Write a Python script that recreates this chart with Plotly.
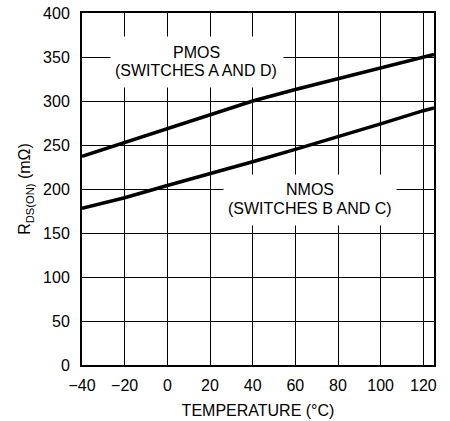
import plotly.graph_objects as go

# Data
temperature = [-40, -20, 0, 20, 40, 60, 80, 100, 120, 125]
pmos_rds = [237, 253, 268, 284, 300, 313, 325, 338, 350, 353]
nmos_rds = [178, 190, 204, 217, 231, 245, 259, 274, 289, 292]

x_ticks = [-40, -20, 0, 20, 40, 60, 80, 100, 120]
x_tick_text = ["\u221240", "\u221220", "0", "20", "40", "60", "80", "100", "120"]
y_ticks = [0, 50, 100, 150, 200, 250, 300, 350, 400]

# Label texts and placements (data coordinates)
pmos_label = ["PMOS", "(SWITCHES A AND D)"]
pmos_label_x = 13.5
pmos_label_y = [355, 335]
pmos_box_center = (13.8, 344)

nmos_label = ["NMOS", "(SWITCHES B AND C)"]
nmos_label_x = 67
nmos_label_y = [199, 178]
nmos_box_center = (67, 187)

FONT = "Liberation Sans, Arial, sans-serif"
FS = 16

fig = go.Figure()
fig.add_trace(go.Scatter(x=temperature, y=pmos_rds, mode="lines",
                         line=dict(color="black", width=3.5), showlegend=False))
fig.add_trace(go.Scatter(x=temperature, y=nmos_rds, mode="lines",
                         line=dict(color="black", width=3.5), showlegend=False))

# white knock-out boxes behind the labels
for cx, cy in (pmos_box_center, nmos_box_center):
    fig.add_annotation(x=cx, y=cy, text=" ", showarrow=False,
                       width=172, height=50, bgcolor="white", borderpad=0,
                       font=dict(size=2))

for txt, yy in zip(pmos_label, pmos_label_y):
    fig.add_annotation(x=pmos_label_x, y=yy, text=txt, showarrow=False,
                       font=dict(family=FONT, size=FS, color="black"))
for txt, yy in zip(nmos_label, nmos_label_y):
    fig.add_annotation(x=nmos_label_x, y=yy, text=txt, showarrow=False,
                       font=dict(family=FONT, size=FS, color="black"))

fig.update_layout(
    template="none",
    width=450, height=421,
    margin=dict(l=82, r=16, t=13, b=56, autoexpand=False),
    paper_bgcolor="white", plot_bgcolor="white",
    font=dict(family=FONT, size=FS, color="black"),
    showlegend=False,
)
fig.update_xaxes(
    range=[-40, 125], tickvals=x_ticks, ticktext=x_tick_text,
    showgrid=True, gridcolor="#000000", gridwidth=1, zeroline=False,
    showline=True, linecolor="black", linewidth=2, mirror=True,
    ticks="outside", ticklen=5, tickcolor="rgba(0,0,0,0)", automargin=False,
    ticklabeloverflow="allow",
    title=dict(text="TEMPERATURE (\u00b0C)", standoff=12,
               font=dict(family=FONT, size=FS)),
)
fig.update_yaxes(
    range=[0, 400], tickvals=y_ticks,
    showgrid=True, gridcolor="#000000", gridwidth=1, zeroline=False,
    showline=True, linecolor="black", linewidth=2, mirror=True,
    ticks="outside", ticklen=7, tickcolor="rgba(0,0,0,0)", automargin=False,
    ticklabeloverflow="allow",
    title=dict(text="R<sub>DS(ON)</sub> (m\u03a9)", standoff=8,
               font=dict(family=FONT, size=FS)),
)

fig.write_html("out.html",
               config={"displayModeBar": False},
               post_script="document.body.style.margin='0';document.body.style.overflow='hidden';")
